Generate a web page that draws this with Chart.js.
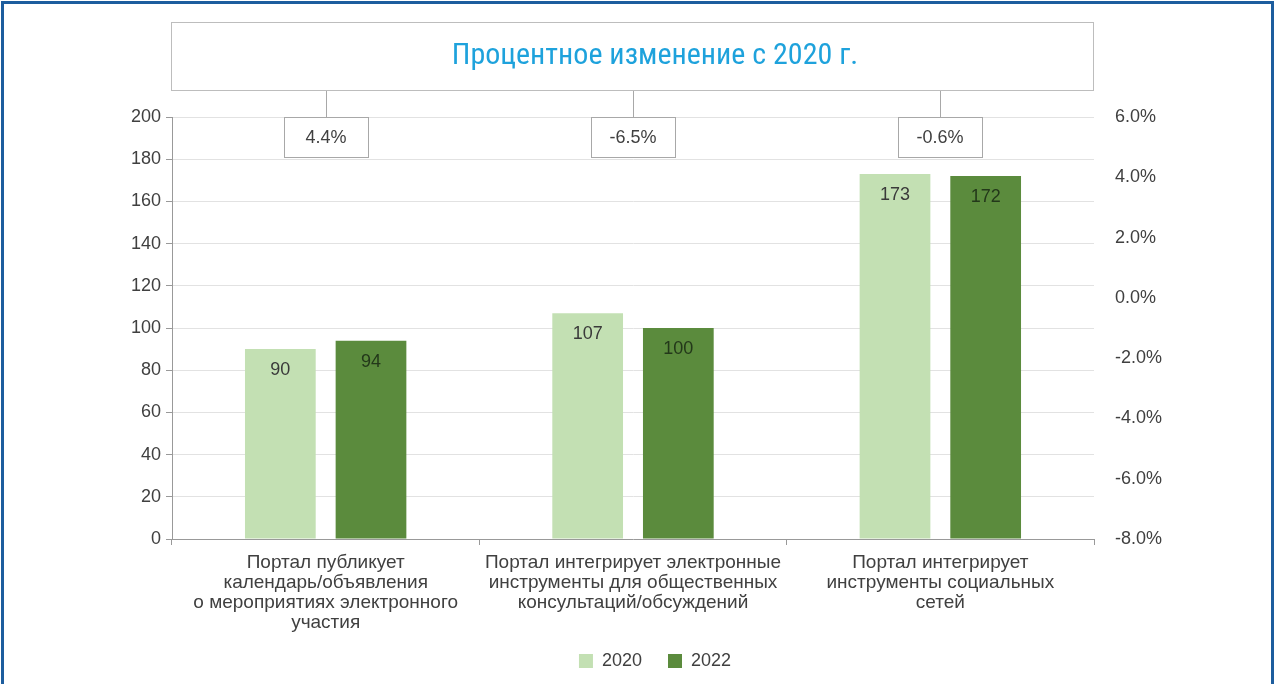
<!DOCTYPE html>
<html>
<head>
<meta charset="utf-8">
<script src="https://cdn.jsdelivr.net/npm/chart.js@4/dist/chart.umd.min.js"></script>
<style>
  html, body { margin: 0; padding: 0; background: #fff; }
  #wrap { position: relative; width: 1276px; height: 684px; overflow: hidden; }
  #frame { position: absolute; left: 1px; top: 1px; width: 1267px; height: 700px;
           border: 3px solid #1d5d9e; border-bottom: none; pointer-events: none; }
  canvas { position: absolute; left: 0; top: 0; }
</style>
</head>
<body>
<div id="wrap">
  <canvas id="c" width="1276" height="684"></canvas>
  <div id="frame"></div>
</div>
<script>
const TITLE = 'Процентное изменение с 2020 г.';
const categories = [
  ['Портал публикует', 'календарь/объявления', 'о мероприятиях электронного', 'участия'],
  ['Портал интегрирует электронные', 'инструменты для общественных', 'консультаций/обсуждений'],
  ['Портал интегрирует', 'инструменты социальных', 'сетей']
];
const seriesNames = ['2020', '2022'];
const values2020 = [90, 107, 173];
const values2022 = [94, 100, 172];
const pctChange = ['4.4%', '-6.5%', '-0.6%'];
const leftTicks = { min: 0, max: 200, step: 20 };
const rightTicks = { min: -8, max: 6, step: 2 };

const FONT = '"Liberation Sans", Arial, sans-serif';
const NARROW = '"Liberation Sans Narrow", "Arial Narrow", "Roboto Condensed", sans-serif';
const COL_LIGHT = '#c3e0b3';
const COL_DARK = '#5b8b3d';

const decorPlugin = {
  id: 'decor',
  afterLayout(chart) {
    const lg = chart.legend;
    if (lg) { lg.left += 17; lg.right += 17; lg.top -= 10; lg.bottom -= 10; }
  },
  afterDatasetsDraw(chart) {
    const ctx = chart.ctx;
    const ca = chart.chartArea;
    const x = chart.scales.x, y = chart.scales.y;
    ctx.save();
    // title box
    const tTop = 22, tBot = 90;
    ctx.strokeStyle = '#bdbdbd';
    ctx.lineWidth = 1;
    ctx.strokeRect(ca.left - 0.5, tTop + 0.5, ca.right - ca.left, tBot - tTop);
    ctx.fillStyle = '#1ea2dc';
    ctx.font = '30px ' + NARROW;
    ctx.textAlign = 'center';
    ctx.textBaseline = 'middle';
    ctx.fillText(TITLE, 655, 56);
    // percent boxes
    ctx.font = '18px ' + FONT;
    pctChange.forEach((t, i) => {
      const cx = Math.round(x.getPixelForValue(i));
      const bTop = y.getPixelForValue(200);
      const bBot = y.getPixelForValue(181);
      ctx.strokeStyle = '#a8a8a8';
      ctx.beginPath();
      ctx.moveTo(cx + 0.5, tBot + 1);
      ctx.lineTo(cx + 0.5, bTop);
      ctx.stroke();
      ctx.fillStyle = '#fff';
      ctx.fillRect(cx - 42, bTop, 84, bBot - bTop);
      ctx.strokeRect(cx - 42 + 0.5, Math.round(bTop) + 0.5, 84, Math.round(bBot - bTop));
      ctx.fillStyle = '#404040';
      ctx.fillText(t, cx, (bTop + bBot) / 2 + 1);
    });
    // data labels
    ctx.font = '18px ' + FONT;
    chart.data.datasets.forEach((ds, di) => {
      const meta = chart.getDatasetMeta(di);
      meta.data.forEach((bar, i) => {
        ctx.fillStyle = di === 0 ? '#3a3a3a' : '#23381a';
        ctx.fillText(String(ds.data[i]), bar.x, bar.y + 21);
      });
    });
    ctx.restore();
  }
};

new Chart(document.getElementById('c'), {
  type: 'bar',
  data: {
    labels: categories,
    datasets: [
      { label: seriesNames[0], data: values2020, backgroundColor: COL_LIGHT, yAxisID: 'y',
        categoryPercentage: 0.59, barPercentage: 0.78 },
      { label: seriesNames[1], data: values2022, backgroundColor: COL_DARK, yAxisID: 'y',
        categoryPercentage: 0.59, barPercentage: 0.78 }
    ]
  },
  options: {
    responsive: false,
    animation: false,
    devicePixelRatio: 1,
    layout: { padding: { top: 117, left: 0, right: 0, bottom: -6 } },
    plugins: {
      title: { display: false },
      tooltip: { enabled: false },
      legend: {
        position: 'bottom',
        labels: { font: { family: FONT, size: 18 }, color: '#404040', boxWidth: 14, boxHeight: 14, padding: 26 }
      }
    },
    scales: {
      x: {
        grid: { display: true, drawOnChartArea: false, drawTicks: true, tickLength: 6, color: '#999', offset: true },
        border: { color: '#999' },
        ticks: { font: { family: FONT, size: 19, lineHeight: 1.05 }, color: '#404040', maxRotation: 0, autoSkip: false, padding: 8 },
        afterFit(s) { s.height = 97; }
      },
      y: {
        position: 'left',
        min: leftTicks.min, max: leftTicks.max,
        ticks: { stepSize: leftTicks.step, font: { family: FONT, size: 18 }, color: '#404040', padding: 5 },
        grid: { color: '#e2e2e2', tickColor: '#999', tickLength: 6 },
        border: { color: '#999' },
        afterFit(s) { s.width = 172; }
      },
      y1: {
        position: 'right',
        min: rightTicks.min, max: rightTicks.max,
        ticks: { stepSize: rightTicks.step, font: { family: FONT, size: 18 }, color: '#404040', padding: 13,
                 callback: v => v.toFixed(1) + '%' },
        grid: { display: false, drawOnChartArea: false },
        border: { display: false },
        afterFit(s) { s.width = 182; }
      }
    }
  },
  plugins: [decorPlugin]
});
</script>
</body>
</html>
